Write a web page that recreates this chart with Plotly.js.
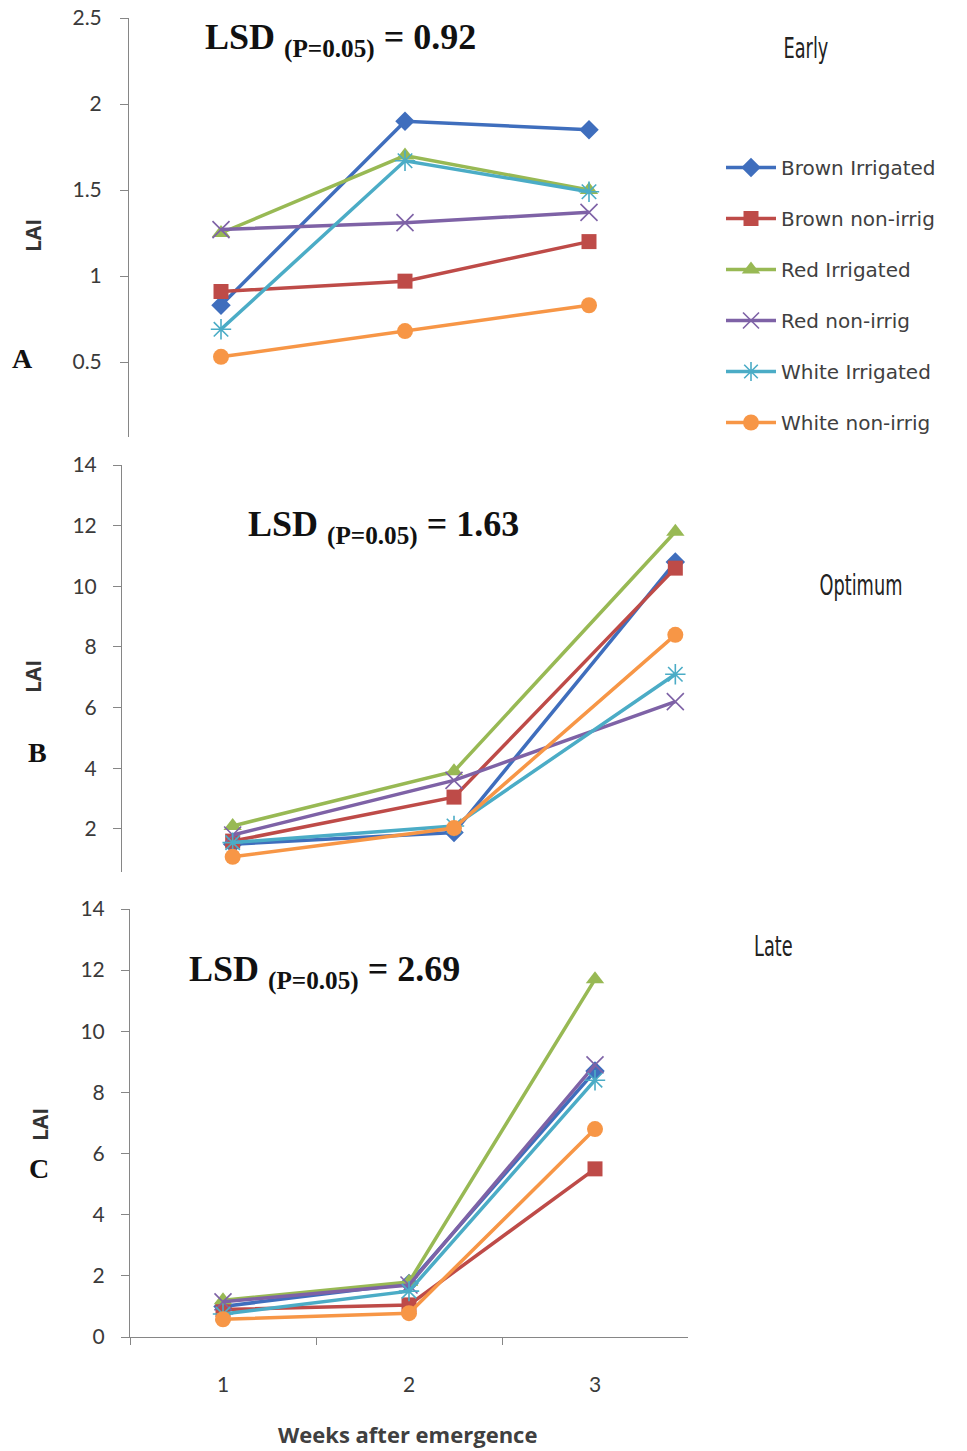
<!DOCTYPE html>
<html>
<head>
<meta charset="utf-8">
<script src="https://cdn.plot.ly/plotly-3.0.1.min.js"></script>
<style>html,body{margin:0;padding:0;background:#fff;}#chart{width:967px;height:1451px;}</style>
</head>
<body>
<div id="chart"></div>
<script>
// Categories (weeks after emergence)
const weeks = ['1', '2', '3'];
const seriesNames = ['Brown Irrigated', 'Brown non-irrig', 'Red Irrigated', 'Red non-irrig', 'White Irrigated', 'White non-irrig'];

// Panel A - Early sowing (LAI)
const earlyBrownIrr = [0.83, 1.90, 1.85];
const earlyBrownNon = [0.91, 0.97, 1.20];
const earlyRedIrr   = [1.25, 1.70, 1.50];
const earlyRedNon   = [1.27, 1.31, 1.37];
const earlyWhiteIrr = [0.69, 1.67, 1.49];
const earlyWhiteNon = [0.53, 0.68, 0.83];

// Panel B - Optimum sowing (LAI)
const optBrownIrr = [1.50, 1.88, 10.8];
const optBrownNon = [1.60, 3.05, 10.6];
const optRedIrr   = [2.10, 3.90, 11.8];
const optRedNon   = [1.80, 3.60, 6.2];
const optWhiteIrr = [1.55, 2.10, 7.1];
const optWhiteNon = [1.08, 2.03, 8.4];

// Panel C - Late sowing (LAI)
const lateBrownIrr = [1.00, 1.75, 8.7];
const lateBrownNon = [0.90, 1.05, 5.5];
const lateRedIrr   = [1.20, 1.80, 11.7];
const lateRedNon   = [1.15, 1.70, 8.9];
const lateWhiteIrr = [0.75, 1.50, 8.4];
const lateWhiteNon = [0.58, 0.78, 6.8];

// Tick labels
const tickA = [0.5, 1, 1.5, 2, 2.5];
const tickAText = ['0.5', '1', '1.5', '2', '2.5'];
const tickB = [2, 4, 6, 8, 10, 12, 14];
const tickBText = ['2', '4', '6', '8', '10', '12', '14'];
const tickC = [0, 2, 4, 6, 8, 10, 12, 14];
const tickCText = ['0', '2', '4', '6', '8', '10', '12', '14'];

const lsdTexts = ['0.92', '1.63', '2.69'];
const seasonLabels = ['Early', 'Optimum', 'Late'];
const panelLetters = ['A', 'B', 'C'];

// Styles
const colors = ['#3F6EBD', '#BE4B48', '#98B954', '#7E62A6', '#4BACC6', '#F79646'];
const symbols = ['diamond', 'square', 'triangle-up', 'x-thin-open', 'asterisk-open', 'circle'];
const msizes = [15, 15, 16, 17, 17, 16];

const panels = [
  {vals: [earlyBrownIrr, earlyBrownNon, earlyRedIrr, earlyRedNon, earlyWhiteIrr, earlyWhiteNon], xa: 'x', ya: 'y'},
  {vals: [optBrownIrr, optBrownNon, optRedIrr, optRedNon, optWhiteIrr, optWhiteNon], xa: 'x2', ya: 'y2'},
  {vals: [lateBrownIrr, lateBrownNon, lateRedIrr, lateRedNon, lateWhiteIrr, lateWhiteNon], xa: 'x3', ya: 'y3'}
];

const traces = [];
panels.forEach((p, pi) => {
  p.vals.forEach((v, si) => {
    const thin = symbols[si].indexOf('open') >= 0;
    traces.push({
      type: 'scatter', mode: 'lines+markers',
      x: weeks, y: v, xaxis: p.xa, yaxis: p.ya,
      name: seriesNames[si], legendgroup: 'g' + si,
      showlegend: pi === 0,
      line: {color: colors[si], width: 3.5},
      marker: {symbol: symbols[si], size: msizes[si], color: colors[si],
               line: {color: colors[si], width: thin ? 1.6 : 0}}
    });
  });
});

const W = 967, H = 1451;
const px = v => v / W;
const py = v => (H - v) / H;

const axisGray = '#868686';
const tickFont = {family: 'Lato, "Open Sans", sans-serif', size: 21, color: '#3a3a3a'};

function yAxis(dom, range, tv, tt, anchor, standoff) {
  return {domain: dom, range: range, anchor: anchor, tickvals: tv, ticktext: tt,
    showline: true, linecolor: axisGray, linewidth: 1, ticks: 'outside', ticklen: 8,
    tickcolor: axisGray, showgrid: false, zeroline: false, tickfont: tickFont,
    ticklabelstandoff: standoff, fixedrange: true};
}
function xHidden(dom, anchor) {
  return {domain: dom, anchor: anchor, type: 'category', range: [-0.5, 2.5],
    showline: false, showticklabels: false, ticks: '', showgrid: false, zeroline: false};
}

const annotations = [];
const lsdPos = [[340, 40], [383, 527], [324, 972]];
const seasonPos = [[806, 48], [861, 585], [773, 946]];
const letterPos = [[22, 358], [37, 753], [39, 1168]];
const laiPos = [[33, 236], [33, 677], [40, 1125]];
for (let i = 0; i < 3; i++) {
  annotations.push({xref: 'paper', yref: 'paper', x: px(lsdPos[i][0]), y: py(lsdPos[i][1]),
    xanchor: 'center', yanchor: 'middle', showarrow: false,
    text: '<b>LSD <sub>(P=0.05)</sub> = ' + lsdTexts[i] + '</b>',
    font: {family: '"Liberation Serif", "Times New Roman", serif', size: 36, color: '#111'}});
  annotations.push({xref: 'paper', yref: 'paper', x: px(seasonPos[i][0]), y: py(seasonPos[i][1]),
    xanchor: 'center', yanchor: 'middle', showarrow: false, text: seasonLabels[i],
    font: {family: '"DejaVu Sans Condensed", "DejaVu Sans", sans-serif', size: 29, color: '#222'}});
  annotations.push({xref: 'paper', yref: 'paper', x: px(letterPos[i][0]), y: py(letterPos[i][1]),
    xanchor: 'center', yanchor: 'middle', showarrow: false, text: '<b>' + panelLetters[i] + '</b>',
    font: {family: '"Liberation Serif", "Times New Roman", serif', size: 28, color: '#111'}});
  annotations.push({xref: 'paper', yref: 'paper', x: px(laiPos[i][0]), y: py(laiPos[i][1]),
    xanchor: 'center', yanchor: 'middle', showarrow: false, text: '<b>LAI</b>', textangle: -90,
    font: {family: '"Open Sans", sans-serif', size: 21, color: '#333'}});
}
annotations.push({xref: 'paper', yref: 'paper', x: px(407), y: py(1434),
  xanchor: 'center', yanchor: 'middle', showarrow: false, text: '<b>Weeks after emergence</b>',
  font: {family: '"Open Sans", sans-serif', size: 22, color: '#404040'}});

const layout = {
  width: W, height: H,
  margin: {l: 0, r: 0, t: 0, b: 0, pad: 0},
  paper_bgcolor: '#ffffff', plot_bgcolor: 'rgba(0,0,0,0)',
  showlegend: true,
  legend: {x: px(721), y: py(148), xanchor: 'left', yanchor: 'top',
    font: {family: '"DejaVu Sans", sans-serif', size: 20, color: '#404040'},
    tracegroupgap: 22, traceorder: 'grouped', bgcolor: 'rgba(0,0,0,0)', itemwidth: 50},
  xaxis: xHidden([px(129), px(681)], 'y'),
  yaxis: yAxis([py(437), py(18)], [2.5 - (437 - 18) / 172, 2.5], tickA, tickAText, 'x', 14),
  xaxis2: xHidden([px(122), px(786)], 'y2'),
  yaxis2: yAxis([py(872), py(465)], [14 - (872 - 465) / 30.33, 14], tickB, tickBText, 'x2', 12),
  xaxis3: {domain: [px(130), px(688)], anchor: 'y3', type: 'category', range: [-0.5, 2.5],
    showline: true, linecolor: axisGray, ticks: 'outside', tickson: 'boundaries', ticklen: 7,
    tickcolor: axisGray, showgrid: false, zeroline: false, tickfont: tickFont, ticklabelstandoff: 29},
  yaxis3: yAxis([py(1337), py(909)], [0, 14], tickC, tickCText, 'x3', 12),
  annotations: annotations
};

Plotly.newPlot('chart', traces, layout, {staticPlot: true}).then(function (gd) {
  // Narrow the season labels to mimic the condensed face of the original
  gd.querySelectorAll('.annotation-text').forEach(function (t) {
    if (seasonLabels.indexOf(t.textContent) >= 0) {
      t.style.transformBox = 'fill-box';
      t.style.transformOrigin = 'center';
      t.style.transform = 'scaleX(0.68)';
    }
  });
});
</script>
</body>
</html>
